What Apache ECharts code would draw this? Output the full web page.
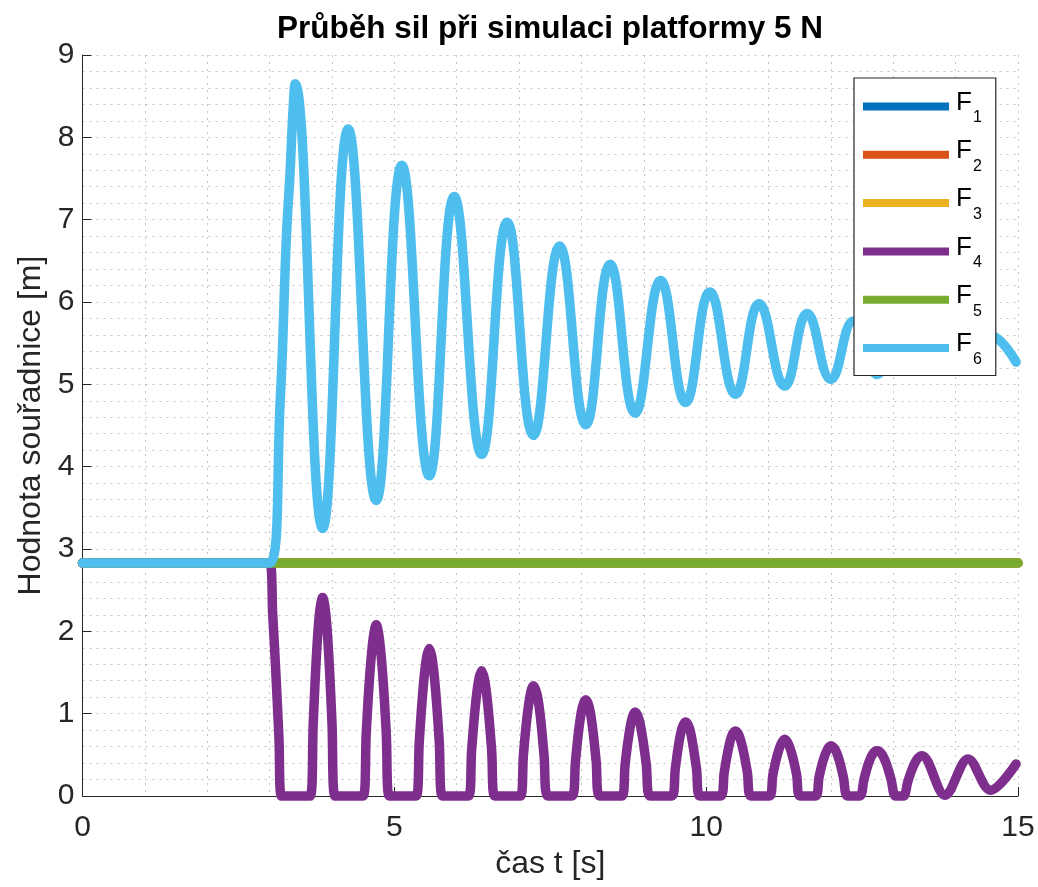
<!DOCTYPE html>
<html>
<head>
<meta charset="utf-8">
<script src="https://cdn.jsdelivr.net/npm/echarts@6/dist/echarts.min.js"></script>
<style>
html,body{margin:0;padding:0;background:#fff;}
#chart{width:1038px;height:887px;}
</style>
</head>
<body>
<div id="chart"></div>
<script>
const titleText = 'Průběh sil při simulaci platformy 5 N';
const xName = 'čas t [s]';
const yName = 'Hodnota souřadnice [m]';
const seriesNames = ['F1', 'F2', 'F3', 'F4', 'F5', 'F6'];
const seriesSubs = ['1', '2', '3', '4', '5', '6'];
const seriesColors = ['#0072BD', '#D95319', '#EDB120', '#7E2F8E', '#77AC30', '#4DBEEE'];
const xTicks = [0, 5, 10, 15];
const yTicks = [0, 1, 2, 3, 4, 5, 6, 7, 8, 9];

const f1 = [[0, 2.83], [15, 2.83]];
const f2 = [[0, 2.83], [15, 2.83]];
const f3 = [[0, 2.83], [15, 2.83]];
const f4 = [
  [0, 2.83], [3.0, 2.83], [3.05, 2.2], [3.1, 1.5], [3.15, 0.7], [3.19, 0],
  [3.65, 0], [3.70, 0.89], [3.75, 1.69], [3.80, 2.22], [3.85, 2.41],
  [3.90, 2.22], [3.95, 1.69], [4.00, 0.89], [4.05, 0],
  [4.50, 0], [4.55, 0.77], [4.605, 1.46], [4.66, 1.91], [4.71, 2.08],
  [4.76, 1.91], [4.815, 1.46], [4.87, 0.77], [4.92, 0],
  [5.35, 0], [5.40, 0.66], [5.455, 1.25], [5.51, 1.65], [5.56, 1.79],
  [5.61, 1.65], [5.665, 1.25], [5.72, 0.66], [5.77, 0],
  [6.19, 0], [6.24, 0.56], [6.295, 1.06], [6.35, 1.40], [6.40, 1.52],
  [6.45, 1.40], [6.505, 1.06], [6.56, 0.56], [6.61, 0],
  [7.02, 0], [7.07, 0.50], [7.125, 0.94], [7.18, 1.23], [7.23, 1.34],
  [7.29, 1.23], [7.345, 0.94], [7.40, 0.50], [7.46, 0],
  [7.85, 0], [7.905, 0.43], [7.96, 0.82], [8.015, 1.08], [8.07, 1.17],
  [8.125, 1.08], [8.18, 0.82], [8.235, 0.43], [8.29, 0],
  [8.65, 0], [8.70, 0.38], [8.755, 0.71], [8.81, 0.94], [8.86, 1.02],
  [8.92, 0.94], [8.98, 0.71], [9.04, 0.38], [9.10, 0],
  [9.45, 0], [9.505, 0.33], [9.56, 0.63], [9.615, 0.83], [9.67, 0.90],
  [9.73, 0.83], [9.785, 0.63], [9.845, 0.33], [9.90, 0],
  [10.23, 0], [10.29, 0.29], [10.35, 0.55], [10.41, 0.73], [10.47, 0.79],
  [10.53, 0.73], [10.595, 0.55], [10.66, 0.29], [10.72, 0],
  [11.01, 0], [11.07, 0.26], [11.135, 0.48], [11.20, 0.63], [11.26, 0.69],
  [11.32, 0.63], [11.385, 0.48], [11.45, 0.26], [11.51, 0],
  [11.75, 0], [11.81, 0.23], [11.875, 0.43], [11.94, 0.56], [12.0, 0.61],
  [12.07, 0.56], [12.135, 0.43], [12.20, 0.23], [12.27, 0],
  [12.46, 0], [12.53, 0.20], [12.60, 0.39], [12.67, 0.51], [12.74, 0.55],
  [12.815, 0.51], [12.89, 0.39], [12.965, 0.20], [13.04, 0],
  [13.16, 0], [13.235, 0.18], [13.31, 0.34], [13.385, 0.45], [13.46, 0.49],
  [13.83, 0.01], [14.2, 0.45], [14.56, 0.07], [14.97, 0.39]
];
const f5 = [[0, 2.83], [15, 2.83]];
const f6 = [
  [0, 2.83], [3.0, 2.83], [3.17, 4.8], [3.27, 6.8], [3.33, 7.6],
  [3.37, 8.25], [3.41, 8.65], [3.85, 3.25], [4.26, 8.10], [4.71, 3.59],
  [5.12, 7.66], [5.56, 3.89], [5.96, 7.28], [6.40, 4.15], [6.81, 6.97],
  [7.23, 4.38], [7.65, 6.68], [8.07, 4.51], [8.46, 6.46], [8.86, 4.65],
  [9.27, 6.26], [9.67, 4.78], [10.06, 6.12], [10.47, 4.88], [10.85, 5.98],
  [11.26, 4.98], [11.62, 5.86], [12.0, 5.06], [12.36, 5.77], [12.74, 5.12],
  [13.1, 5.70], [13.46, 5.18], [13.83, 5.65], [14.2, 5.22], [14.56, 5.59],
  [14.97, 5.27]
];
const allData = [f1, f2, f3, f4, f5, f6];
const smoothVals = [0.4, 0.4, 0.4, 0.35, 0.4, 0.45];

const FONT = '"Liberation Sans", Arial, Helvetica, sans-serif';
const TXT = '#262626';
const GRID_C = '#c4c4c4';

const chart = echarts.init(document.getElementById('chart'), null, {renderer: 'canvas'});

const series = seriesNames.map((n, i) => ({
  name: n,
  type: 'line',
  data: allData[i],
  showSymbol: false,
  symbol: 'none',
  smooth: smoothVals[i],
  clip: false,
  animation: false,
  lineStyle: {color: seriesColors[i], width: 9.5, cap: 'round', join: 'round'},
  itemStyle: {color: seriesColors[i]},
  emphasis: {disabled: true},
  z: 2 + i * 0.01
}));

const option = {
  animation: false,
  backgroundColor: '#fff',
  title: {
    text: titleText,
    left: 550,
    top: 13,
    textAlign: 'center',
    padding: 0,
    textStyle: {fontFamily: FONT, fontWeight: 'bold', fontSize: 31.5, color: '#000'}
  },
  grid: {left: 82.5, right: 20, top: 55, bottom: 91, containLabel: false},
  legend: {
    orient: 'vertical',
    left: 854,
    top: 78,
    padding: [9, 14, 8, 9],
    itemGap: 9.3,
    itemWidth: 86,
    itemHeight: 8,
    icon: 'rect',
    backgroundColor: '#fff',
    borderColor: TXT,
    borderWidth: 1.2,
    borderRadius: 0,
    data: seriesNames.map((n, i) => ({name: n, itemStyle: {color: seriesColors[i]}})),
    formatter: function (name) {
      const i = seriesNames.indexOf(name);
      return '{a|F}{b|' + seriesSubs[i] + '}';
    },
    textStyle: {
      fontFamily: FONT,
      color: '#000',
      rich: {
        a: {fontFamily: FONT, fontSize: 26, lineHeight: 26, color: '#000', padding: [0, 1, 8, 2]},
        b: {fontFamily: FONT, fontSize: 16, lineHeight: 16, color: '#000', padding: [23, 0, 0, 0]}
      }
    }
  },
  xAxis: {
    type: 'value',
    min: 0,
    max: 15,
    interval: 5,
    name: xName,
    nameLocation: 'middle',
    nameGap: 52,
    nameTextStyle: {fontFamily: FONT, fontSize: 32, color: TXT},
    axisLine: {show: true, onZero: false, lineStyle: {color: TXT, width: 1}},
    axisTick: {show: true, inside: true, length: 9, lineStyle: {color: TXT, width: 1}},
    axisLabel: {fontFamily: FONT, fontSize: 30, color: TXT, margin: 17,
      formatter: v => (xTicks.indexOf(v) >= 0 ? String(v) : '')},
    splitLine: {show: true, lineStyle: {color: GRID_C, width: 1, type: [2, 5]}},
    minorTick: {show: false, splitNumber: 5},
    minorSplitLine: {show: true, lineStyle: {color: GRID_C, width: 1, type: [2, 5]}}
  },
  yAxis: {
    type: 'value',
    min: 0,
    max: 9,
    interval: 1,
    name: yName,
    nameLocation: 'middle',
    nameGap: 35,
    nameTextStyle: {fontFamily: FONT, fontSize: 32, color: TXT},
    axisLine: {show: true, onZero: false, lineStyle: {color: TXT, width: 1}},
    axisTick: {show: true, inside: true, length: 9, lineStyle: {color: TXT, width: 1}},
    axisLabel: {fontFamily: FONT, fontSize: 30, color: TXT, margin: 8,
      formatter: v => (yTicks.indexOf(v) >= 0 ? String(v) : '')},
    splitLine: {show: true, lineStyle: {color: GRID_C, width: 1, type: [2, 5]}},
    minorTick: {show: false, splitNumber: 5},
    minorSplitLine: {show: true, lineStyle: {color: GRID_C, width: 1, type: [2, 5]}}
  },
  series: series
};
chart.setOption(option);
</script>
</body>
</html>
